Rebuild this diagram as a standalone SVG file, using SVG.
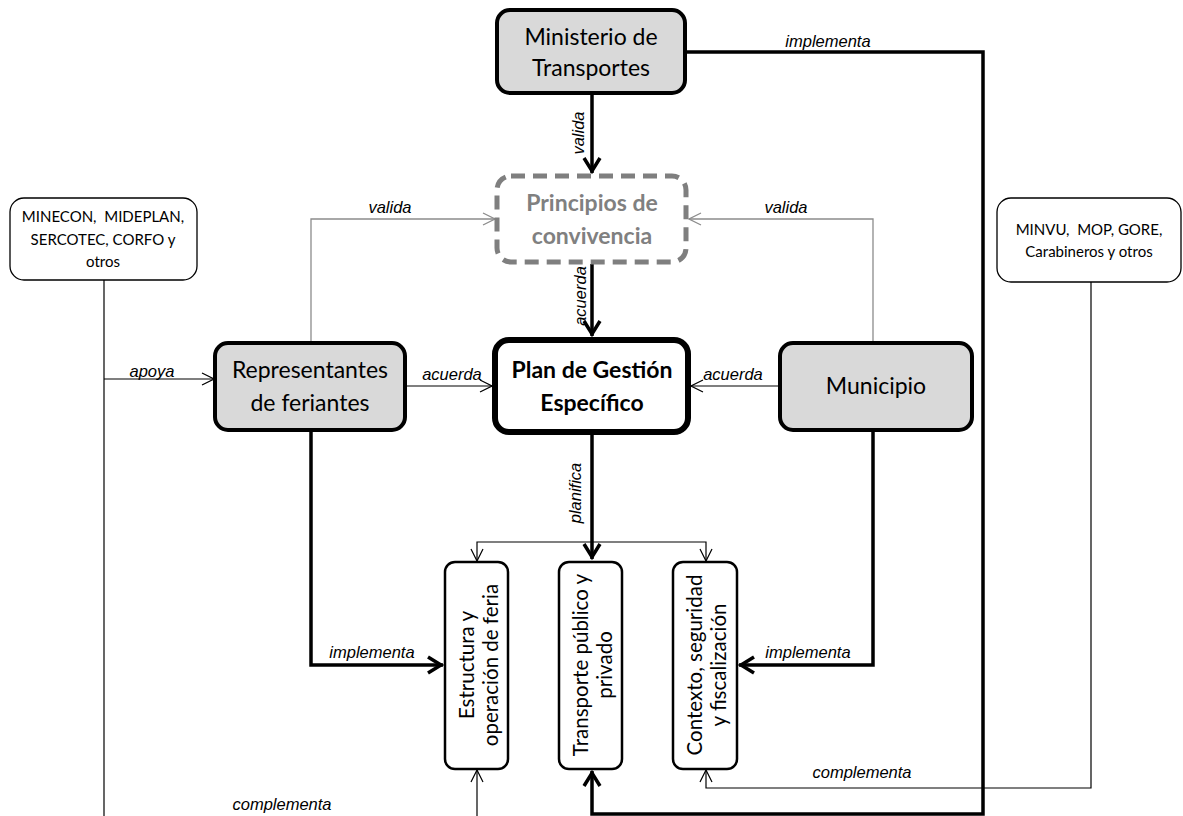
<svg xmlns="http://www.w3.org/2000/svg" width="1183" height="816" viewBox="0 0 1183 816">
<style>
.t{font-family:Lato,"Liberation Sans",sans-serif;text-anchor:middle;fill:#000}
.big{font-size:23px}
.bold{font-weight:bold}
.sm{font-size:15px}
.vt{font-size:20.5px}
.lbl{font-family:"Liberation Sans",Arial,sans-serif;font-style:italic;font-size:16.5px;text-anchor:middle;fill:#000}
.main{stroke:#000;stroke-width:4;fill:#d9d9d9}
.thin{stroke:#000;stroke-width:1.3;fill:#fff}
.mid{stroke:#000;stroke-width:2.5;fill:#fff}
.ck{fill:none;stroke:#000;stroke-width:3.5}
.cn{fill:none;stroke:#000;stroke-width:1.2}
.cg{fill:none;stroke:#8c8c8c;stroke-width:1.3}
</style>
<defs>
<marker id="at" viewBox="0 0 14 14" refX="13" refY="7" markerWidth="14" markerHeight="14" markerUnits="userSpaceOnUse" orient="auto"><path d="M1,1 L13,7 L1,13" fill="none" stroke="#000" stroke-width="1.2"/></marker>
<marker id="ag" viewBox="0 0 14 14" refX="13" refY="7" markerWidth="14" markerHeight="14" markerUnits="userSpaceOnUse" orient="auto"><path d="M1,1 L13,7 L1,13" fill="none" stroke="#8c8c8c" stroke-width="1.3"/></marker>
<marker id="ak" viewBox="0 0 20 20" refX="17" refY="10" markerWidth="20" markerHeight="20" markerUnits="userSpaceOnUse" orient="auto"><path d="M2,2 L15,10 L2,18" fill="none" stroke="#000" stroke-width="3.5"/></marker>
</defs>
<rect width="1183" height="816" fill="#fff"/>

<g id="connectors">
<path class="ck" d="M592,93 V173" marker-end="url(#ak)"/>
<path class="ck" d="M592,264 V336" marker-end="url(#ak)"/>
<path class="ck" d="M592,435 V559" marker-end="url(#ak)"/>
<path class="ck" d="M687,52 H983 V814 H592 V771" marker-end="url(#ak)"/>
<path class="cn" d="M405,386 H492" marker-end="url(#at)"/>
<path class="cn" d="M780,386 H691" marker-end="url(#at)"/>
<path class="cg" d="M311,343 V219 H495" marker-end="url(#ag)"/>
<path class="cg" d="M873,343 V219 H689" marker-end="url(#ag)"/>
<path class="ck" d="M311,430 V665 H443" marker-end="url(#ak)"/>
<path class="ck" d="M873,430 V665 H739" marker-end="url(#ak)"/>
<path class="cn" d="M592,542 H477 V561" marker-end="url(#at)"/>
<path class="cn" d="M592,542 H706 V561" marker-end="url(#at)"/>
<path class="cn" d="M104,280 V816"/>
<path class="cn" d="M104,379 H214" marker-end="url(#at)"/>
<path class="cn" d="M477,816 V770" marker-end="url(#at)"/>
<path class="cn" d="M1091,282 V788 H706 V770" marker-end="url(#at)"/>
<text class="lbl" x="828" y="47">implementa</text>
<text class="lbl" transform="translate(584,133) rotate(-90)">valida</text>
<text class="lbl" transform="translate(586,296) rotate(-90)">acuerda</text>
<text class="lbl" transform="translate(581,493) rotate(-90)">planifica</text>
<text class="lbl" x="390" y="213">valida</text>
<text class="lbl" x="786" y="213">valida</text>
<text class="lbl" x="452" y="380">acuerda</text>
<text class="lbl" x="733" y="380">acuerda</text>
<text class="lbl" x="152" y="377">apoya</text>
<text class="lbl" x="372" y="658">implementa</text>
<text class="lbl" x="808" y="658">implementa</text>
<text class="lbl" x="862" y="778">complementa</text>
<text class="lbl" x="282" y="810">complementa</text>
</g>

<g id="ministerio">
<rect class="main" x="497" y="10" width="188" height="83" rx="13"/>
<text class="t big" x="591" y="45">Ministerio de</text>
<text class="t big" x="591" y="76">Transportes</text>
</g>
<g id="principios">
<rect x="497" y="176" width="189" height="86" rx="14" fill="#fff" stroke="#7f7f7f" stroke-width="5" stroke-dasharray="14 8"/>
<text class="t big bold" x="592" y="211" style="fill:#808080">Principios de</text>
<text class="t big bold" x="592" y="244" style="fill:#808080">convivencia</text>
</g>
<g id="plan">
<rect x="495" y="340" width="193" height="92" rx="14" fill="#fff" stroke="#000" stroke-width="6"/>
<text class="t big bold" x="592" y="378">Plan de Gestión</text>
<text class="t big bold" x="592" y="411">Específico</text>
</g>
<g id="representantes">
<rect class="main" x="215" y="343" width="190" height="87" rx="13"/>
<text class="t big" x="310" y="378">Representantes</text>
<text class="t big" x="310" y="411">de feriantes</text>
</g>
<g id="municipio">
<rect class="main" x="780" y="343" width="192" height="87" rx="13"/>
<text class="t big" x="876" y="394">Municipio</text>
</g>
<g id="minecon">
<rect class="thin" x="10" y="198" width="187" height="82" rx="14"/>
<text class="t sm" x="103" y="222">MINECON,&#160; MIDEPLAN,</text>
<text class="t sm" x="103" y="245">SERCOTEC, CORFO y</text>
<text class="t sm" x="103" y="267">otros</text>
</g>
<g id="minvu">
<rect class="thin" x="997" y="198" width="184" height="84" rx="14"/>
<text class="t sm" x="1089" y="235">MINVU,&#160; MOP, GORE,</text>
<text class="t sm" x="1089" y="257">Carabineros y otros</text>
</g>
<g id="estructura">
<rect class="mid" x="445" y="562" width="63" height="207" rx="10"/>
<text class="t vt" transform="translate(476.5,665) rotate(-90)"><tspan x="0" y="-3">Estructura y</tspan><tspan x="0" y="21">operación de feria</tspan></text>
</g>
<g id="transporte">
<rect class="mid" x="559" y="562" width="63" height="207" rx="10"/>
<text class="t vt" transform="translate(590.5,665) rotate(-90)"><tspan x="0" y="-3">Transporte público y</tspan><tspan x="0" y="21">privado</tspan></text>
</g>
<g id="contexto">
<rect class="mid" x="673" y="562" width="64" height="207" rx="10"/>
<text class="t vt" transform="translate(705,665) rotate(-90)"><tspan x="0" y="-3">Contexto, seguridad</tspan><tspan x="0" y="21">y fiscalización</tspan></text>
</g>
</svg>
